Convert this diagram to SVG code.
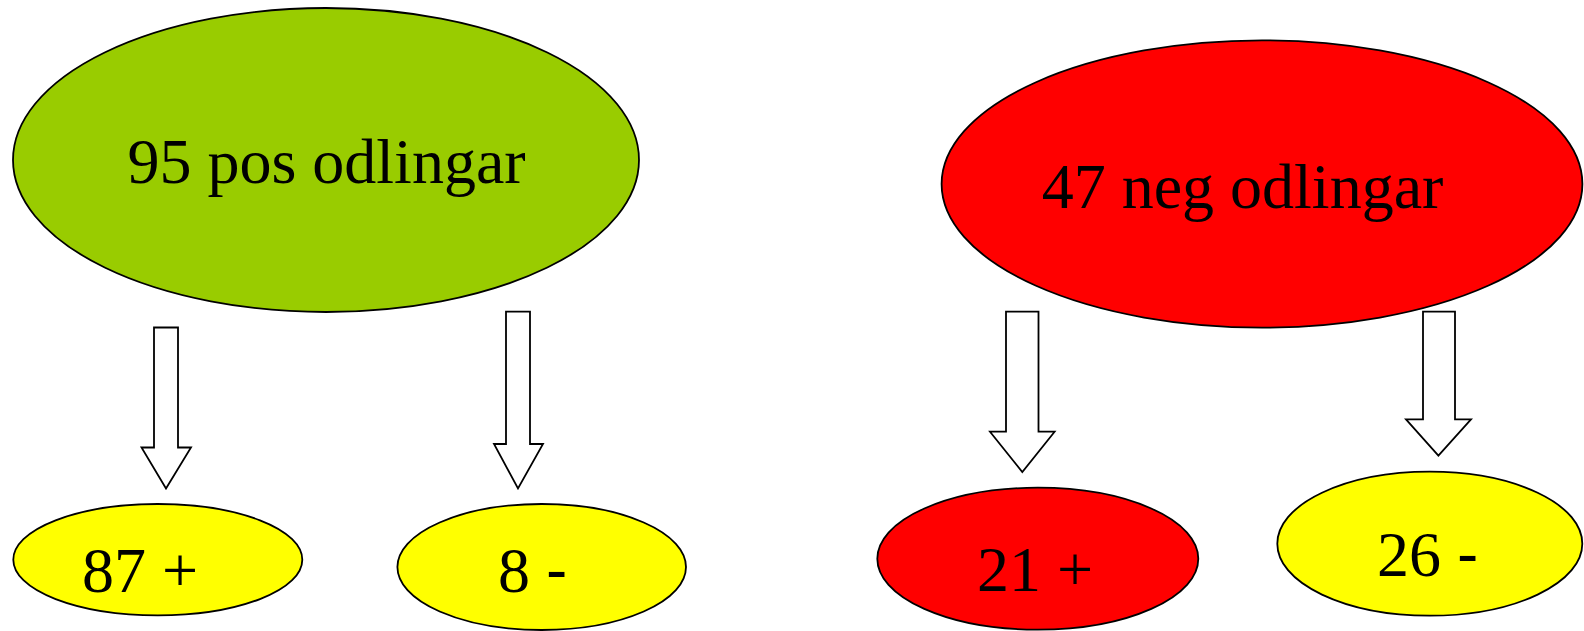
<svg xmlns="http://www.w3.org/2000/svg" width="1584" height="631" viewBox="0 0 1584 631">
  <style>
    .node { stroke: #000; stroke-width: 1.8; }
    .green { fill: #99CC00; }
    .red { fill: #FF0000; }
    .yellow { fill: #FFFF00; }
    .lbl { font-family: "Liberation Serif", "Times New Roman", serif; font-size: 64px; fill: #000; }
    .dash { font-family: "Liberation Sans", Arial, sans-serif; }
    .arrow { fill: #fff; stroke: #000; stroke-width: 1.8; stroke-linejoin: miter; }
  </style>
  <rect width="1584" height="631" fill="#fff"/>
  <g id="pos">
    <ellipse class="node green" cx="326" cy="160" rx="313" ry="152"/>
    <text class="lbl" x="326.5" y="183.3" text-anchor="middle">95 pos odlingar</text>
  </g>
  <g id="neg">
    <ellipse class="node red" cx="1262" cy="184" rx="320.4" ry="143.6"/>
    <text class="lbl" x="1242.5" y="208.3" text-anchor="middle">47 neg odlingar</text>
  </g>
  <g id="pos-plus">
    <ellipse class="node yellow" cx="157.8" cy="559.7" rx="144.5" ry="55.7"/>
    <text class="lbl" x="82" y="591.7">87 +</text>
  </g>
  <g id="pos-minus">
    <ellipse class="node yellow" cx="541.7" cy="567" rx="144.3" ry="63"/>
    <text class="lbl" x="498" y="591.7">8 <tspan class="dash">-</tspan></text>
  </g>
  <g id="neg-plus">
    <ellipse class="node red" cx="1037.8" cy="558.7" rx="160.5" ry="71"/>
    <text class="lbl" x="977" y="591">21 +</text>
  </g>
  <g id="neg-minus">
    <ellipse class="node yellow" cx="1429.8" cy="543.7" rx="152.5" ry="72"/>
    <text class="lbl" x="1377" y="576">26 <tspan class="dash">-</tspan></text>
  </g>
  <g id="connectors">
    <polygon class="arrow" points="154,327.5 178,327.5 178,447.5 191,447.5 166,488.5 141.5,447.5 154,447.5"/>
    <polygon class="arrow" points="506,311.7 530,311.7 530,444 543,444 518,488.5 494,444 506,444"/>
    <polygon class="arrow" points="1006,311.7 1038.5,311.7 1038.5,431.7 1054.6,431.7 1022.3,472 990,431.7 1006,431.7"/>
    <polygon class="arrow" points="1423,311.7 1455,311.7 1455,419.3 1471,419.3 1438.4,455.7 1406,419.3 1423,419.3"/>
  </g>
</svg>
